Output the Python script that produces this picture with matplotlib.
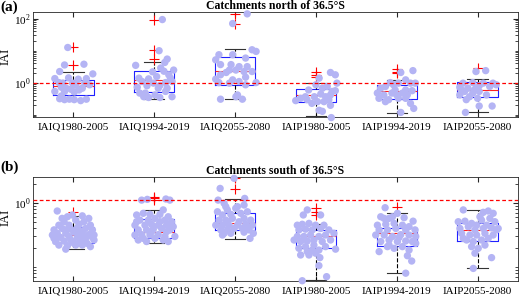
import numpy as np
import matplotlib
matplotlib.use("Agg")
import matplotlib.pyplot as plt
from matplotlib.ticker import LogLocator, NullFormatter, FixedLocator, FixedFormatter

plt.rcParams["font.family"] = ["Liberation Serif", "DejaVu Serif"]
plt.rcParams["mathtext.fontset"] = "custom"
plt.rcParams["mathtext.rm"] = "Liberation Serif"

groups = ["IAIQ1980-2005", "IAIQ1994-2019", "IAIQ2055-2080",
          "IAIP1980-2005", "IAIP1994-2019", "IAIP2055-2080"]

# ---- catchments north of 36.5S ----
north_jit = [
    [-0.07, -0.11, 0.13, -0.17, 0.24, -0.23, -0.06, 0.06, 0.16, -0.18, -0.13, -0.01, 0.03, 0.14, 0.20,
     -0.15, -0.09, 0.11, -0.03, 0.07, -0.23, -0.11, 0.01, -0.17, -0.11, -0.05, 0.01, 0.09, 0.16, -0.15],
    [0.10, 0.06, 0.16, -0.23, 0.13, 0.08, 0.24, -0.02, 0.12, 0.18, -0.19, -0.07, 0.03, 0.20, -0.15,
     -0.01, 0.14, 0.22, -0.09, 0.07, -0.21, 0.05, 0.16, -0.18, -0.13, -0.07, 0.01, 0.07, 0.22, 0.14, -0.11],
    [0.15, -0.03, -0.20, -0.24, -0.03, 0.13, 0.21, 0.26, -0.18, -0.05, 0.05, 0.15, -0.07, 0.01, -0.18,
     -0.11, 0.11, 0.21, -0.24, -0.03, 0.13, -0.20, -0.07, 0.05, 0.26, 0.13, -0.18, 0.01, 0.09, 0.03],
    [0.04, 0.18, 0.24, 0.0, -0.09, 0.08, 0.14, 0.24, -0.25, -0.13, -0.02, 0.06, 0.12, 0.18, 0.02,
     0.10, 0.16, 0.04, 0.08, -0.05, 0.18, 0.19, -0.19, -0.11, 0.20, 0.26],
    [0.05, 0.20, 0.11, -0.08, -0.04, 0.02, 0.17, -0.20, -0.14, -0.02, 0.11, 0.19, -0.24, -0.16, 0.0,
     0.07, 0.13, -0.22, -0.10, 0.02, 0.11, 0.17, 0.21, -0.14, 0.05, -0.06, 0.23],
    [-0.02, 0.10, -0.18, -0.06, 0.19, 0.02, -0.22, -0.12, -0.02, 0.15, -0.16, -0.06, 0.02, -0.22, -0.10,
     0.0, 0.11, 0.23, -0.14, 0.02, 0.18, -0.15, -0.04, 0.07, -0.20],
]
north_val = [
    [12.6, 3.6, 3.8, 2.25, 1.9, 1.36, 1.43, 1.3, 1.36, 1.02, 0.98, 0.98, 0.85, 0.98, 0.87,
     0.73, 0.68, 0.68, 0.63, 0.60, 0.54, 0.54, 0.52, 0.32, 0.30, 0.31, 0.30, 0.28, 0.31, 0.39],
    [93, 10, 5.5, 3.5, 4.3, 2.9, 2.5, 2.2, 2.3, 1.78, 1.4, 1.33, 1.57, 1.4, 1.1,
     0.98, 1.02, 1.1, 0.81, 0.83, 0.73, 0.68, 0.68, 0.48, 0.37, 0.35, 0.42, 0.35, 0.37, 0.54, 0.48],
    [140, 70, 7.5, 5.2, 7.5, 5.9, 10.7, 9.5, 3.7, 3.7, 3.2, 3.2, 2.5, 2.5, 1.78,
     2.1, 2.25, 2.25, 1.3, 1.24, 1.5, 1.02, 0.98, 1.1, 1.02, 0.87, 0.31, 0.37, 0.31, 0.42],
    [1.4, 2.1, 1.78, 0.87, 0.60, 0.68, 0.77, 0.57, 0.28, 0.37, 0.37, 0.45, 0.37, 0.42, 0.26,
     0.26, 0.30, 0.14, 0.13, 0.23, 0.20, 0.083, 0.33, 0.30, 0.54, 0.98],
    [2.1, 2.4, 1.24, 1.02, 0.87, 0.98, 0.98, 0.68, 0.77, 0.60, 0.60, 0.57, 0.48, 0.42, 0.42,
     0.48, 0.42, 0.33, 0.30, 0.33, 0.33, 0.23, 0.16, 0.26, 0.12, 0.48, 0.98],
    [2.25, 2.4, 0.98, 1.02, 0.98, 0.81, 0.73, 0.68, 0.68, 0.77, 0.54, 0.48, 0.54, 0.42, 0.37,
     0.33, 0.42, 0.87, 0.30, 0.19, 0.19, 0.12, 0.60, 0.98, 0.60],
]
north_q1 = [0.41, 0.51, 0.85, 0.26, 0.32, 0.37]
north_med = [0.82, 1.24, 2.3, 0.42, 0.56, 0.60]
north_q3 = [1.24, 2.37, 6.6, 0.65, 0.87, 1.1]
north_lo = [0.29, 0.32, 0.31, 0.09, 0.118, 0.12]
north_hi = [2.16, 4.5, 11.3, 1.02, 1.21, 1.3]
north_out = [[12.7, 3.5], [93, 10.7, 5.5], [140, 70], [2.2, 1.78, 1.47], [2.7, 2.25, 2.0], [2.9]]

# ---- catchments south of 36.5S ----
south_jit = [
    [-0.20, 0.11, -0.074, -0.012, 0.19, -0.115, 0.029, 0.13, -0.18, -0.053, 0.07, 0.21, -0.24, -0.14, -0.033,
     0.049, 0.15, 0.235, -0.20, -0.095, 0.008, 0.11, 0.19, 0.255, -0.24, -0.16, -0.053, 0.049, 0.15, 0.235,
     -0.22, -0.115, -0.012, 0.09, 0.17, 0.255, -0.18, -0.074, 0.029, 0.11, 0.21, -0.095, 0.008, 0.07, -0.14,
     -0.26, -0.033, 0.13, 0.07, -0.095],
    [-0.156, -0.086, 0.144, 0.193, 0.111, -0.218, -0.136, -0.053, 0.07, 0.173, -0.177, -0.074, 0.008, 0.132,
     0.214, -0.239, -0.115, -0.033, 0.049, 0.152, 0.235, -0.198, -0.095, -0.012, 0.091, 0.193, -0.239, -0.156,
     -0.053, 0.049, 0.132, 0.255, -0.198, -0.095, 0.008, 0.111, 0.173, -0.136, -0.033, 0.07, -0.218, 0.152],
    [-0.012, -0.185, 0.119, -0.21, -0.136, 0.029, 0.111, -0.218, -0.095, 0.008, -0.156, -0.053, 0.07, 0.152,
     -0.198, -0.115, -0.033, 0.111, 0.193, -0.239, -0.156, -0.074, 0.029, 0.132, 0.214, -0.177, -0.095, -0.012,
     0.091, 0.173, -0.136, -0.053, 0.111, 0.226, -0.156, 0.185, -0.095, 0.049, 0.152, -0.115],
    [-0.107, -0.156, 0.058, -0.23, -0.169, -0.086, -0.004, 0.099, -0.21, -0.128, -0.045, 0.058, 0.16, 0.222,
     -0.23, -0.148, -0.066, 0.037, 0.119, 0.181, -0.189, -0.107, -0.025, 0.078, 0.243, -0.21, -0.128, -0.045,
     0.037, -0.189, -0.086, -0.004, 0.049, 0.037, 0.132, -0.169, -0.27, 0.119, -0.025, -0.107],
    [-0.144, 0.008, -0.198, -0.095, 0.091, 0.202, -0.239, -0.136, -0.033, 0.07, 0.152, -0.218, -0.115, -0.012,
     0.111, 0.226, -0.26, -0.156, -0.053, 0.049, 0.152, 0.235, -0.198, -0.095, 0.008, 0.111, 0.193, -0.218,
     -0.115, -0.033, 0.07, 0.152, 0.132, 0.185, 0.111, -0.095, 0.029, -0.156, -0.053, 0.235],
    [-0.177, 0.07, 0.132, 0.193, 0.029, -0.239, -0.156, -0.074, 0.049, 0.152, 0.214, -0.218, -0.115, -0.033,
     0.07, 0.173, 0.235, -0.198, -0.095, -0.012, 0.091, 0.193, -0.136, -0.053, 0.049, 0.132, -0.074, 0.008,
     0.091, -0.033, 0.173, -0.053, -0.177, 0.111, -0.012, 0.255],
]
south_val = [
    [0.75, 0.63, 0.61, 0.65, 0.575, 0.51, 0.54, 0.51, 0.45, 0.45, 0.465, 0.45, 0.38, 0.40, 0.39,
     0.41, 0.40, 0.38, 0.336, 0.336, 0.35, 0.35, 0.32, 0.316, 0.28, 0.29, 0.30, 0.29, 0.28, 0.29,
     0.25, 0.255, 0.25, 0.25, 0.234, 0.264, 0.22, 0.215, 0.22, 0.22, 0.208, 0.19, 0.234, 0.316, 0.575,
     0.316, 0.264, 0.30, 0.38, 0.38],
    [1.11, 1.14, 1.155, 1.11, 0.78, 0.65, 0.69, 0.665, 0.665, 0.61, 0.54, 0.54, 0.575, 0.54, 0.51,
     0.45, 0.45, 0.465, 0.45, 0.45, 0.427, 0.38, 0.38, 0.39, 0.40, 0.38, 0.316, 0.32, 0.316, 0.32,
     0.30, 0.30, 0.264, 0.25, 0.28, 0.264, 0.25, 0.28, 0.356, 0.51, 0.51, 0.356],
    [2.43, 1.69, 1.18, 1.11, 0.99, 0.877, 0.93, 0.73, 0.78, 0.826, 0.65, 0.665, 0.69, 0.73, 0.54,
     0.54, 0.575, 0.575, 0.54, 0.45, 0.45, 0.45, 0.45, 0.465, 0.45, 0.38, 0.38, 0.40, 0.40, 0.38,
     0.336, 0.336, 0.35, 0.336, 0.316, 0.28, 0.51, 0.51, 0.427, 0.877],
    [0.78, 0.65, 0.65, 0.45, 0.465, 0.48, 0.45, 0.45, 0.38, 0.39, 0.38, 0.40, 0.38, 0.336, 0.30,
     0.30, 0.316, 0.30, 0.316, 0.264, 0.25, 0.255, 0.264, 0.25, 0.19, 0.196, 0.208, 0.184, 0.184, 0.154,
     0.154, 0.164, 0.14, 0.105, 0.0706, 0.061, 0.264, 0.208, 0.22, 0.174],
    [0.845, 0.69, 0.61, 0.575, 0.59, 0.52, 0.45, 0.465, 0.48, 0.45, 0.427, 0.38, 0.38, 0.40, 0.38,
     0.38, 0.316, 0.316, 0.30, 0.32, 0.316, 0.30, 0.25, 0.264, 0.25, 0.255, 0.25, 0.174, 0.208, 0.196,
     0.208, 0.184, 0.15, 0.124, 0.08, 0.22, 0.29, 0.575, 0.61, 0.234],
    [0.78, 0.715, 0.75, 0.69, 0.61, 0.51, 0.52, 0.48, 0.54, 0.575, 0.51, 0.40, 0.427, 0.38, 0.40,
     0.41, 0.38, 0.336, 0.316, 0.316, 0.336, 0.316, 0.264, 0.25, 0.264, 0.28, 0.208, 0.196, 0.22, 0.164,
     0.14, 0.095, 0.28, 0.45, 0.45, 0.40],
]
south_q1 = [0.235, 0.284, 0.38, 0.2, 0.213, 0.258]
south_med = [0.32, 0.356, 0.49, 0.30, 0.336, 0.38]
south_q3 = [0.42, 0.556, 0.705, 0.38, 0.41, 0.49]
south_lo = [0.19, 0.24, 0.27, 0.062, 0.08, 0.095]
south_hi = [0.63, 0.78, 1.155, 0.465, 0.69, 0.78]
south_out = [[0.73], [1.25, 1.18, 1.11], [1.65, 2.46], [0.826, 0.72, 0.65], [0.857], []]


def draw_panel(ax, jit, val, q1, med, q3, lo, hi, out, ylim, majors, thresh, title, label_y):
    pos = np.arange(1, len(groups) + 1)
    stats = []
    for i in range(len(groups)):
        stats.append({"med": med[i], "q1": q1[i], "q3": q3[i],
                      "whislo": lo[i], "whishi": hi[i], "fliers": out[i]})
    ax.bxp(stats, positions=pos, widths=0.5, zorder=2,
           boxprops=dict(color="#2020ff", lw=0.8),
           whiskerprops=dict(color="black", lw=0.8, ls="--"),
           capprops=dict(color="#333333", lw=0.8),
           medianprops=dict(color="#ff2020", lw=0.8),
           flierprops=dict(marker="+", markeredgecolor="red", markersize=7, mew=0.8))
    for i in range(len(groups)):
        ax.scatter(pos[i] + np.array(jit[i]), val[i], s=28, color="#b4b4f4",
                   edgecolors="none", zorder=3, clip_on=False)
    ax.axhline(thresh, color="red", ls="--", lw=0.9, dashes=(3, 2), zorder=4)

    ax.set_yscale("log")
    ax.set_ylim(*ylim)
    ax.set_xlim(0.5, len(groups) + 0.5)
    ax.yaxis.set_major_locator(FixedLocator(majors))
    ax.yaxis.set_major_formatter(FixedFormatter(
        ["$10^{%d}$" % int(round(np.log10(m))) for m in majors]))
    ax.yaxis.set_minor_locator(LogLocator(base=10, subs=np.arange(1, 10), numticks=20))
    ax.yaxis.set_minor_formatter(NullFormatter())
    ax.set_xticks(pos)
    ax.set_xticklabels(groups, fontsize=8)
    ax.tick_params(axis="both", which="both", direction="in", top=True, right=True,
                   colors="#262626", labelcolor="black")
    ax.tick_params(axis="y", which="major", length=3.5, labelsize=8, pad=1.5)
    ax.tick_params(axis="y", which="minor", length=2)
    ax.tick_params(axis="x", length=3.5, pad=4)
    for sp in ax.spines.values():
        sp.set_color("#262626")
        sp.set_linewidth(0.6)
    ax.set_ylabel("IAI", fontsize=9)
    ax.yaxis.set_label_coords(-0.045, label_y)
    ax.set_title(title, fontsize=8.5, fontweight="bold", pad=2)


def run() -> None:
    fig = plt.figure(figsize=(5.2, 2.98), dpi=100)
    ax_a = fig.add_axes([33 / 520, 1 - 117 / 298, 485 / 520, 105 / 298])
    ax_b = fig.add_axes([33 / 520, 1 - 281 / 298, 485 / 520, 104 / 298])

    draw_panel(ax_a, north_jit, north_val, north_q1, north_med, north_q3,
               north_lo, north_hi, north_out, (0.0866, 160), [1, 100], 1.0,
               "Catchments north of 36.5°S", 0.58)
    draw_panel(ax_b, south_jit, south_val, south_q1, south_med, south_q3,
               south_lo, south_hi, south_out, (0.0604, 2.55), [1], 1.1,
               "Catchments south of 36.5°S", 0.61)

    fig.text(0.0, 1 - 1 / 298, "(a)", fontsize=11, fontweight="bold", va="top", ha="left")
    fig.text(0.0, 1 - 161 / 298, "(b)", fontsize=11, fontweight="bold", va="top", ha="left")

    fig.savefig("out.png", dpi=100)


if __name__ == "__main__":
    run()
